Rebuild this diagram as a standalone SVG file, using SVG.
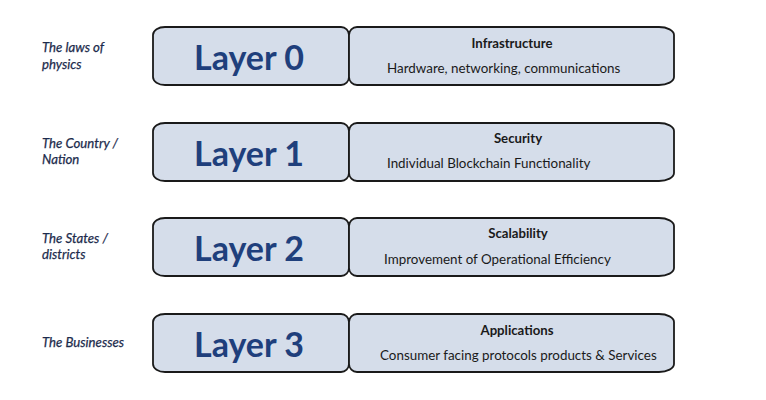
<svg xmlns="http://www.w3.org/2000/svg" width="766" height="400" viewBox="0 0 766 400">
<style>
.bg{fill:#ffffff}
.box{fill:#d5ddea;stroke:#1a1a1a;stroke-width:1.8}
.layer{font-family:Lato,"Open Sans","Liberation Sans",sans-serif;font-weight:700;font-size:34px;fill:#1f3f7c;text-anchor:middle}
.side{font-family:Lato,"Open Sans","Liberation Sans",sans-serif;font-style:italic;font-size:13.2px;fill:#1c2b4c;stroke:#1c2b4c;stroke-width:0.25}
.title{font-family:Lato,"Open Sans","Liberation Sans",sans-serif;font-weight:700;font-size:13.2px;fill:#1a1a1a;text-anchor:middle}
.sub{font-family:Lato,"Open Sans","Liberation Sans",sans-serif;font-size:13.4px;fill:#1a1a1a}
</style>
<defs>
<path id="lbox" d="M165,0 H341 A8,8 0 0 1 349,8 V50 A8,8 0 0 1 341,58 H165 A12,8 0 0 1 153,50 V8 A12,8 0 0 1 165,0 Z"/>
<path id="rbox" d="M357,0 H659 A15,8 0 0 1 674,8 V50 A15,8 0 0 1 659,58 H357 A8,8 0 0 1 349,50 V8 A8,8 0 0 1 357,0 Z"/>
</defs>
<rect class="bg" x="0" y="0" width="766" height="400"/>
<g id="connectors"/>
<g id="row0">
<text class="side" x="42" y="52">The laws of</text>
<text class="side" x="42" y="69">physics</text>
<g id="layer0" transform="translate(0,27)">
<use href="#lbox" class="box"/>
<text class="layer" x="249" y="43">Layer 0</text>
</g>
<g id="infra" transform="translate(0,27)">
<use href="#rbox" class="box"/>
<text class="title" x="512" y="21">Infrastructure</text>
<text class="sub" x="387" y="46">Hardware, networking, communications</text>
</g>
</g>
<g id="row1">
<text class="side" x="42" y="148">The Country /</text>
<text class="side" x="42" y="164">Nation</text>
<g id="layer1" transform="translate(0,123)">
<use href="#lbox" class="box"/>
<text class="layer" x="249" y="43">Layer 1</text>
</g>
<g id="security" transform="translate(0,123)">
<use href="#rbox" class="box"/>
<text class="title" x="518" y="20">Security</text>
<text class="sub" x="387" y="45">Individual Blockchain Functionality</text>
</g>
</g>
<g id="row2">
<text class="side" x="42" y="243">The States /</text>
<text class="side" x="42" y="259">districts</text>
<g id="layer2" transform="translate(0,218)">
<use href="#lbox" class="box"/>
<text class="layer" x="249" y="43">Layer 2</text>
</g>
<g id="scalability" transform="translate(0,218)">
<use href="#rbox" class="box"/>
<text class="title" x="518" y="20">Scalability</text>
<text class="sub" x="384" y="46">Improvement of Operational Efficiency</text>
</g>
</g>
<g id="row3">
<text class="side" x="42" y="347">The Businesses</text>
<g id="layer3" transform="translate(0,314)">
<use href="#lbox" class="box"/>
<text class="layer" x="249" y="43">Layer 3</text>
</g>
<g id="applications" transform="translate(0,314)">
<use href="#rbox" class="box"/>
<text class="title" x="517" y="21">Applications</text>
<text class="sub" x="380" y="46">Consumer facing protocols products &amp; Services</text>
</g>
</g>
</svg>
